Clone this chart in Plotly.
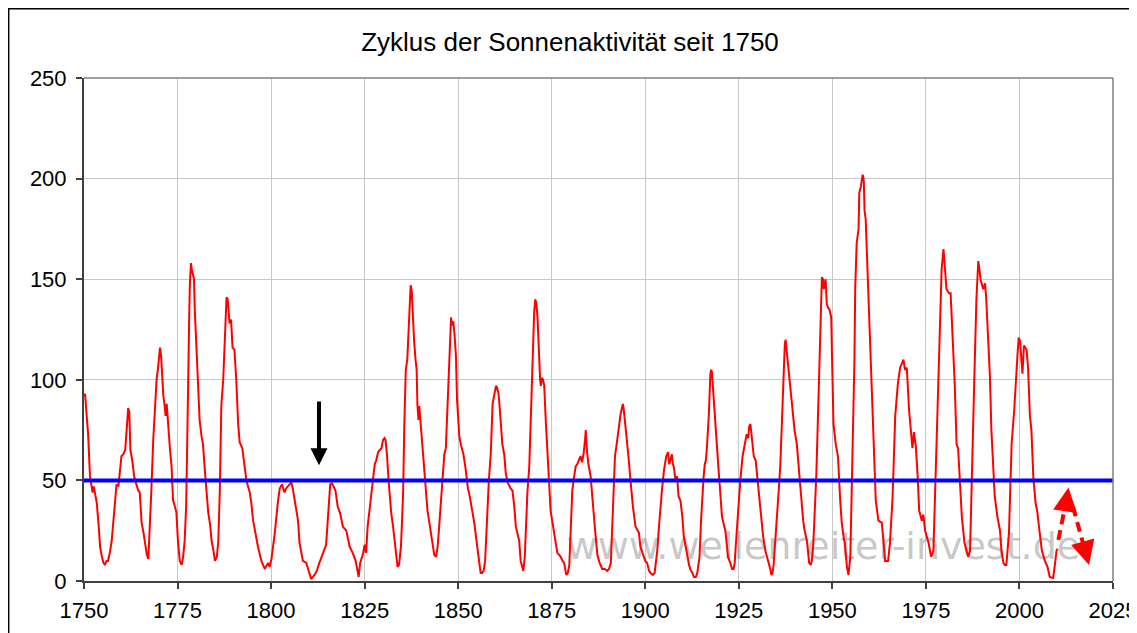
import plotly.graph_objects as go

# Smoothed sunspot number
years = [
    1750.0, 1750.3, 1750.6, 1751.1, 1751.6, 1752.0, 1752.3, 1752.6, 1753.0, 1753.4, 1753.9, 1754.3, 1754.8,
    1755.2, 1755.6, 1756.0, 1756.4, 1756.9, 1757.4, 1757.9, 1758.3, 1758.7, 1759.2, 1759.6, 1760.0, 1760.5,
    1761.0, 1761.4, 1761.8, 1762.1, 1762.4, 1762.9, 1763.4, 1764.0, 1764.5, 1764.9, 1765.4, 1765.9, 1766.3,
    1766.8, 1767.2, 1767.6, 1768.0, 1768.5, 1769.0, 1769.4, 1769.8, 1770.1, 1770.3, 1770.6, 1770.9, 1771.2,
    1771.5, 1771.8, 1772.1, 1772.5, 1773.0, 1773.4, 1773.8, 1774.3, 1774.7, 1775.1, 1775.6, 1776.1, 1776.5,
    1776.9, 1777.3, 1777.6, 1777.8, 1778.1, 1778.3, 1778.6, 1778.8, 1779.1, 1779.4, 1779.6, 1780.1, 1780.5,
    1780.9, 1781.4, 1781.8, 1782.3, 1782.7, 1783.2, 1783.7, 1784.1, 1784.6, 1785.0, 1785.5, 1785.9, 1786.3,
    1786.7, 1787.2, 1787.6, 1788.1, 1788.4, 1788.9, 1789.3, 1789.7, 1790.2, 1790.7, 1791.2, 1791.6, 1792.3,
    1792.9, 1793.4, 1794.3, 1794.7, 1795.2, 1795.9, 1796.5, 1797.4, 1798.3, 1799.2, 1799.6, 1800.1, 1801.0,
    1801.8, 1802.3, 1802.9, 1803.6, 1804.0, 1804.9, 1805.4, 1805.8, 1806.5, 1807.2, 1807.6, 1808.1, 1808.5,
    1809.4, 1810.1, 1810.7, 1811.6, 1812.2, 1812.9, 1813.8, 1814.7, 1815.4, 1815.8, 1816.3, 1817.2, 1817.8,
    1818.4, 1819.2, 1820.1, 1821.0, 1821.8, 1822.6, 1823.4, 1823.8, 1824.5, 1825.0, 1825.4, 1825.8, 1826.3,
    1826.7, 1827.2, 1827.7, 1828.1, 1828.6, 1829.0, 1829.5, 1829.9, 1830.3, 1830.6, 1831.0, 1831.4, 1831.8,
    1832.1, 1832.6, 1833.0, 1833.5, 1833.8, 1834.2, 1834.7, 1835.0, 1835.3, 1835.6, 1836.0, 1836.4, 1836.7,
    1837.0, 1837.3, 1837.6, 1837.9, 1838.2, 1838.6, 1838.9, 1839.1, 1839.4, 1839.6, 1839.9, 1840.3, 1840.6,
    1841.0, 1841.4, 1841.8, 1842.3, 1842.7, 1843.2, 1843.6, 1844.1, 1844.5, 1844.8, 1845.2, 1845.5, 1846.0,
    1846.3, 1846.7, 1847.0, 1847.3, 1847.6, 1847.9, 1848.1, 1848.4, 1848.7, 1849.0, 1849.4, 1849.7, 1850.0,
    1850.3, 1850.7, 1851.1, 1851.4, 1851.9, 1852.3, 1852.6, 1853.0, 1853.4, 1853.9, 1854.3, 1854.9, 1855.3,
    1855.6, 1856.0, 1856.4, 1856.8, 1857.2, 1857.5, 1857.8, 1858.2, 1858.7, 1859.2, 1859.6, 1860.1, 1860.4,
    1860.8, 1861.1, 1861.4, 1861.8, 1862.3, 1862.7, 1863.2, 1863.6, 1864.0, 1864.5, 1865.0, 1865.4, 1865.9,
    1866.3, 1866.7, 1867.1, 1867.4, 1867.8, 1868.1, 1868.5, 1869.0, 1869.4, 1869.7, 1870.0, 1870.3, 1870.6,
    1870.9, 1871.2, 1871.6, 1871.9, 1872.1, 1872.4, 1872.7, 1873.0, 1873.4, 1873.7, 1874.1, 1874.4, 1874.7,
    1875.2, 1875.6, 1876.0, 1876.5, 1877.0, 1877.4, 1877.9, 1878.3, 1878.9, 1879.3, 1879.7, 1880.0, 1880.3,
    1880.5, 1881.0, 1881.4, 1881.8, 1882.3, 1882.7, 1883.1, 1883.5, 1883.9, 1884.1, 1884.4, 1884.8, 1885.4,
    1885.9, 1886.3, 1886.6, 1887.2, 1887.8, 1888.5, 1889.2, 1889.8, 1890.3, 1890.8, 1891.2, 1891.6, 1891.9,
    1892.5, 1893.0, 1893.4, 1894.0, 1894.2, 1894.7, 1895.2, 1895.6, 1896.1, 1896.7, 1897.4, 1897.9, 1898.3,
    1898.7, 1899.2, 1899.6, 1900.0, 1900.5, 1901.0, 1901.4, 1902.0, 1902.5, 1902.9, 1903.2, 1903.7, 1904.1,
    1904.5, 1905.0, 1905.6, 1906.1, 1906.4, 1906.7, 1907.1, 1907.4, 1907.6, 1908.1, 1908.5, 1908.9, 1909.4,
    1909.9, 1910.3, 1910.8, 1911.2, 1911.7, 1912.1, 1912.6, 1913.0, 1913.5, 1913.9, 1914.2, 1914.5, 1914.9,
    1915.2, 1915.6, 1915.9, 1916.2, 1916.5, 1917.0, 1917.4, 1917.6, 1917.8, 1918.1, 1918.6, 1918.9, 1919.2,
    1919.6, 1920.0, 1920.5, 1921.0, 1921.4, 1921.8, 1922.1, 1922.7, 1923.2, 1923.6, 1923.9, 1924.2, 1924.5,
    1924.9, 1925.4, 1926.0, 1926.4, 1926.7, 1927.1, 1927.5, 1927.8, 1928.1, 1928.5, 1928.8, 1929.0, 1929.5,
    1929.9, 1930.3, 1930.7, 1931.0, 1931.5, 1932.1, 1932.6, 1933.0, 1933.4, 1933.7, 1934.0, 1934.3, 1934.8,
    1935.2, 1935.7, 1936.1, 1936.4, 1936.7, 1937.0, 1937.3, 1937.5, 1937.8, 1938.1, 1938.5, 1938.9, 1939.2,
    1939.6, 1939.9, 1940.5, 1941.1, 1941.7, 1942.2, 1942.6, 1943.2, 1943.8, 1944.2, 1944.5, 1944.9, 1945.3,
    1945.7, 1946.1, 1946.7, 1947.0, 1947.2, 1947.5, 1947.7, 1948.0, 1948.2, 1948.5, 1948.8, 1949.2, 1949.7,
    1949.9, 1950.3, 1950.9, 1951.5, 1952.1, 1952.5, 1953.0, 1953.3, 1953.9, 1954.3, 1954.8, 1955.2, 1955.6,
    1955.9, 1956.1, 1956.5, 1957.0, 1957.2, 1957.6, 1958.1, 1958.4, 1958.6, 1958.9, 1959.2, 1959.5, 1960.1,
    1960.5, 1961.0, 1961.6, 1962.3, 1963.2, 1963.7, 1964.1, 1964.5, 1964.9, 1965.4, 1966.1, 1966.8, 1967.5,
    1968.1, 1968.5, 1969.0, 1969.4, 1969.9, 1970.5, 1971.0, 1971.4, 1971.8, 1972.3, 1972.8, 1973.2, 1973.9,
    1974.3, 1974.8, 1975.7, 1976.4, 1977.0, 1977.4, 1978.1, 1978.8, 1979.2, 1979.7, 1979.9, 1980.1, 1980.5,
    1981.2, 1981.6, 1981.8, 1982.3, 1982.7, 1983.2, 1983.6, 1984.1, 1984.6, 1985.3, 1985.9, 1986.3, 1986.8,
    1987.2, 1987.9, 1988.5, 1989.0, 1989.3, 1989.6, 1990.3, 1990.8, 1991.1, 1991.7, 1992.1, 1992.5, 1993.0,
    1993.4, 1994.1, 1994.8, 1995.2, 1995.7, 1996.1, 1996.5, 1997.2, 1997.9, 1998.6, 1998.9, 1999.5, 1999.8,
    2000.2, 2000.4, 2000.8, 2001.2, 2001.9, 2002.3, 2002.8, 2003.2, 2003.7, 2004.3, 2004.8, 2005.4, 2006.0,
    2006.8, 2007.5, 2008.1, 2009.0, 2009.4, 2009.9, 2010.2,
]
sunspots = [
    92, 93, 85, 73, 52, 46, 44, 47, 42, 39, 28, 17, 12,
    9, 8, 10, 10, 14, 20, 32, 42, 48, 47, 55, 62, 63,
    65, 75, 86, 84, 65, 60, 52, 48, 45, 44, 29, 24, 19,
    13, 11, 25, 45, 70, 85, 100, 106, 112, 116, 112, 100, 92,
    88, 82, 88, 75, 65, 57, 40, 37, 34, 20, 10, 8, 12,
    20, 37, 70, 103, 130, 148, 158, 155, 152, 150, 135, 115, 95,
    80, 72, 68, 55, 45, 34, 28, 20, 15, 10, 12, 20, 45,
    87, 100, 121, 141, 140, 128, 130, 116, 115, 100, 78, 69, 66,
    58, 50, 44, 39, 30, 22, 17, 10, 6, 9, 7, 11, 24,
    39, 46, 48, 44, 46, 48, 49, 46, 37, 30, 19, 14, 10,
    9, 4, 1, 3, 5, 9, 14, 18, 37, 48, 48.5, 45, 37,
    34, 27, 25, 17, 14, 10, 2, 9, 13, 18, 14, 27, 35,
    44, 52, 58, 60, 64, 65, 66, 70, 71, 70, 62, 50, 40,
    34, 27, 20, 12, 7, 8, 17, 30, 45, 77, 105, 110, 125,
    140, 147, 144, 130, 120, 110, 105, 88, 80, 87, 80, 70, 66,
    52, 43, 35, 29, 24, 18, 13, 12, 17, 24, 35, 44, 58,
    63, 66, 80, 95, 110, 125, 131, 127, 129, 123, 112, 90, 80,
    72, 68, 65, 63, 57, 50, 46, 43, 39, 33, 29, 20, 15,
    10, 4, 4, 5, 10, 20, 34, 50, 63, 88, 93, 97, 96,
    93, 86, 80, 68, 63, 54, 49, 47, 46, 45, 37, 27, 23,
    20, 10, 6, 5, 12, 28, 44, 57, 80, 105, 120, 133, 140,
    138, 131, 110, 100, 97, 101, 100, 97, 80, 70, 60, 48, 35,
    29, 24, 18, 14, 13, 12, 10, 9, 3, 4, 8, 25, 40,
    45, 52, 57, 58, 60, 62, 59, 63, 70, 75, 65, 58, 52,
    39, 30, 25, 13, 9, 6, 6, 5, 6, 9, 29, 48, 62,
    70, 77, 83, 88, 86, 77, 65, 60, 49, 37, 27, 25, 24,
    17, 14, 12, 10, 9, 5, 4, 3, 4, 10, 15, 28, 39,
    46, 55, 62, 64, 58, 60, 63, 58, 57, 50, 52, 42, 40,
    32, 22, 17, 12, 8, 5.5, 4, 2, 2, 4, 8, 12, 30,
    42, 52, 58, 60, 67, 83, 103, 105, 104, 95, 82, 76, 65,
    55, 45, 32, 28, 25, 18, 12, 9, 6, 6, 9, 18, 27,
    40, 50, 62, 66, 70, 73, 71, 77, 78, 70, 64, 62, 60,
    52, 47, 36, 29, 22, 15, 12, 9, 6, 3, 4, 8, 20,
    34, 46, 58, 75, 92, 106, 118, 120, 114, 111, 103, 95, 87,
    80, 75, 68, 54, 39, 30, 25, 20, 9, 8, 10, 18, 35,
    52, 78, 115, 135, 151, 150, 145, 148, 150, 138, 136, 135, 131,
    112, 78, 68, 62, 40, 29, 22, 19, 7, 3, 12, 45, 77,
    110, 145, 168, 175, 193, 196, 202, 199, 184, 180, 165, 145, 118,
    95, 65, 40, 30, 29, 19, 10, 10, 10, 19, 42, 82, 98,
    106, 108, 110, 105, 106, 85, 72, 66, 74, 67, 52, 35, 30,
    33, 25, 19, 12, 15, 40, 85, 118, 155, 165, 160, 158, 145,
    143, 143, 135, 115, 98, 68, 66, 49, 32, 19, 14, 12, 15,
    49, 98, 140, 159, 155, 150, 145, 148, 141, 115, 102, 75, 60,
    42, 32, 25, 15, 9, 8, 8, 24, 68, 85, 97, 113, 121,
    119, 113, 103, 117, 115, 106, 82, 75, 52, 39, 34, 24, 15,
    10, 7, 2, 1.5, 7, 15, 16,
]

x_ticks = [1750, 1775, 1800, 1825, 1850, 1875, 1900, 1925, 1950, 1975, 2000, 2025]
y_ticks = [0, 50, 100, 150, 200, 250]
threshold_years = [1750, 2025]
threshold_values = [50, 50]

title_text = "Zyklus der Sonnenaktivität seit 1750"
watermark = "www.wellenreiter-invest.de"

FONT = "Liberation Sans, Arial, sans-serif"

# the page body adds an 8px offset, so the figure is sized to end at the window edge
W, H = 1129, 625
L, R, T, B = 76, 24, 70, 52

fig = go.Figure()

# watermark (behind the data line)
fig.add_trace(go.Scatter(
    x=[1947.6], y=[15.5], mode="text", text=[watermark],
    textfont=dict(family="DejaVu Sans, sans-serif", size=38, color="rgba(145,145,145,0.5)"),
    hoverinfo="skip", showlegend=False,
))

fig.add_trace(go.Scatter(
    x=years, y=sunspots, mode="lines",
    line=dict(color="#ff0000", width=2),
    showlegend=False,
))

fig.add_trace(go.Scatter(
    x=threshold_years, y=threshold_values, mode="lines",
    line=dict(color="#0000ff", width=4),
    showlegend=False,
))

shapes = [
    # plot-area top and right border
    dict(type="line", xref="paper", yref="paper", x0=0, x1=1, y0=1, y1=1,
         line=dict(color="#808080", width=1.5)),
    dict(type="line", xref="paper", yref="paper", x0=1, x1=1, y0=0, y1=1,
         line=dict(color="#808080", width=1.5)),
    # chart-area frame
    dict(type="rect", xref="paper", yref="paper", x0=-0.0732, x1=1.0175, y0=-0.12, y1=1.1375,
         line=dict(color="#000000", width=1.5), fillcolor="rgba(0,0,0,0)"),
    # dashed shafts of the red arrows
    dict(type="line", xref="x", yref="y", x0=2010.4, y0=20.4, x1=2012.4, y1=39.0,
         line=dict(color="#ff0000", width=4, dash="10px,6px")),
    dict(type="line", xref="x", yref="y", x0=2014.3, y0=37.0, x1=2017.4, y1=16.0,
         line=dict(color="#ff0000", width=4, dash="10px,6px")),
]

annotations = [
    dict(x=1812.8, y=57.5, ax=1812.8, ay=90, xref="x", yref="y", axref="x", ayref="y",
         showarrow=True, arrowhead=2, arrowwidth=4, arrowsize=0.85, arrowcolor="#000000", text=""),
    dict(x=2013.1, y=46.5, ax=2012.4, ay=37.5, xref="x", yref="y", axref="x", ayref="y",
         showarrow=True, arrowhead=2, arrowwidth=4, arrowsize=1.2, arrowcolor="#ff0000", text=""),
    dict(x=2018.6, y=8.0, ax=2017.2, ay=17.5, xref="x", yref="y", axref="x", ayref="y",
         showarrow=True, arrowhead=2, arrowwidth=4, arrowsize=1.2, arrowcolor="#ff0000", text=""),
]

fig.update_layout(
    width=W, height=H,
    margin=dict(l=L, r=R, t=T, b=B, autoexpand=False),
    paper_bgcolor="white", plot_bgcolor="white",
    font=dict(family=FONT, size=22, color="#000000"),
    title=dict(text=title_text, x=562 / W, xref="container", xanchor="center",
               y=1 - 34 / H, yref="container", yanchor="middle",
               font=dict(family=FONT, size=26, color="#000000"), automargin=False),
    shapes=shapes,
    annotations=annotations,
    showlegend=False,
)

fig.update_xaxes(
    range=[1750, 2025], tickvals=x_ticks, ticktext=[str(v) for v in x_ticks],
    showgrid=True, gridcolor="#c8c8c8", gridwidth=1, automargin=False,
    showline=True, linecolor="#404040", linewidth=2,
    ticks="outside", ticklen=6, tickcolor="#404040", tickwidth=1.5,
    zeroline=False, tickfont=dict(family=FONT, size=22, color="#000000"),
    ticklabelstandoff=3, ticklabeloverflow="allow",
)
fig.update_yaxes(
    range=[0, 250], tickvals=y_ticks, ticktext=[str(v) for v in y_ticks],
    showgrid=True, gridcolor="#c8c8c8", gridwidth=1, automargin=False,
    showline=True, linecolor="#404040", linewidth=2,
    ticks="outside", ticklen=6, tickcolor="#404040", tickwidth=1.5,
    zeroline=False, tickfont=dict(family=FONT, size=22, color="#000000"),
    ticklabelstandoff=5,
)

fig.write_html("out.html")
